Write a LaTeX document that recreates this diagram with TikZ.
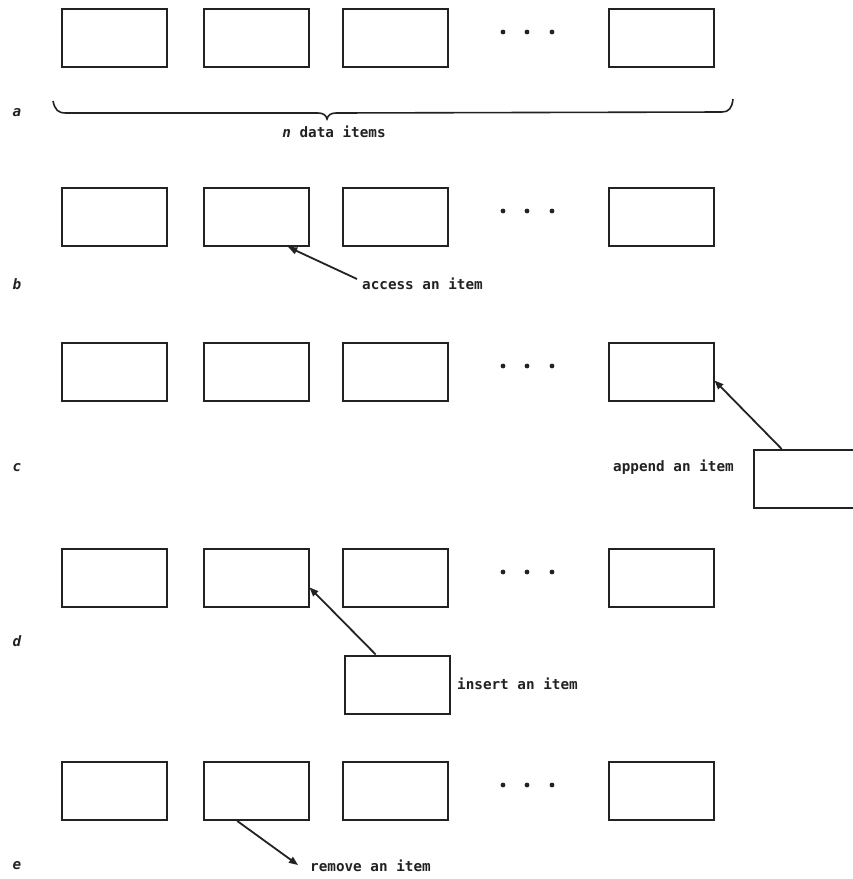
\documentclass[tikz,border=0pt]{standalone}
\usepackage{fontspec}
\newfontfamily\lblfont{DejaVu Sans Mono}
\usetikzlibrary{arrows.meta}
\definecolor{ink}{HTML}{222222}
\begin{document}
\begin{tikzpicture}[x=1pt,y=-1pt,
  itembox/.style={draw=ink,line width=2pt,minimum width=105pt,minimum height=58pt,inner sep=0pt},
  arr/.style={draw=ink,line width=1.8pt,-{Triangle[length=9pt,width=7pt]}},
  lbl/.style={font=\lblfont\bfseries\fontsize{14.3}{16}\selectfont,text=ink,inner sep=0pt,anchor=west},
  rowlbl/.style={font=\lblfont\bfseries\itshape\fontsize{14.3}{16}\selectfont,text=ink,inner sep=0pt}]
\useasboundingbox (0,0) rectangle (853,879);
\clip (0,0) rectangle (853,879);
% ---- rows of boxes
\foreach \r/\y in {a/38,b/217,c/372,d/578,e/791}{
  \node[itembox] (\r1) at (114,\y) {};
  \node[itembox] (\r2) at (256,\y) {};
  \node[itembox] (\r3) at (395,\y) {};
  \node[itembox] (\r5) at (661,\y) {};
  \foreach \dx in {503,527,552}{\fill[ink] (\dx,\y-6) circle (2.4);}
}
% ---- row labels
\node[rowlbl] (la) at (17,113) {a};
\node[rowlbl] (lb) at (17,284) {b};
\node[rowlbl] (lc) at (17,468) {c};
\node[rowlbl] (ld) at (17,641) {d};
\node[rowlbl] (le) at (17,866) {e};
% ---- brace (a)
\draw[ink,line width=1.6pt] (53,101) .. controls (55,110) and (58,113) .. (66,113)
  -- (318,113) .. controls (323,113) and (326,115) .. (327,119)
  .. controls (328,115) and (331,113) .. (336,113)
  -- (722,112) .. controls (729,112) and (732,108) .. (733,99);
\node[lbl,anchor=center] (ndata) at (334,132) {\textit{n} data items};
% ---- (b) access
\coordinate (btail) at (357,279);
\node[lbl] (tb) at (362,284) {access an item};
\draw[arr] (btail) -- (b2.-43);
% ---- (c) append
\node[itembox] (cx) at (806,479) {};
\node[lbl] (tc) at (613,467) {append an item};
\draw[arr] (cx.129) -- (c5.-9);
% ---- (d) insert
\node[itembox] (dx) at (397.5,684.5) {};
\node[lbl] (td) at (457,684) {insert an item};
\draw[arr] (dx.126) -- (d2.-10);
% ---- (e) remove
\coordinate (ehead) at (298,865);
\node[lbl] (te) at (310,866) {remove an item};
\draw[arr] (e2.-122) -- (ehead);
\end{tikzpicture}
\end{document}
